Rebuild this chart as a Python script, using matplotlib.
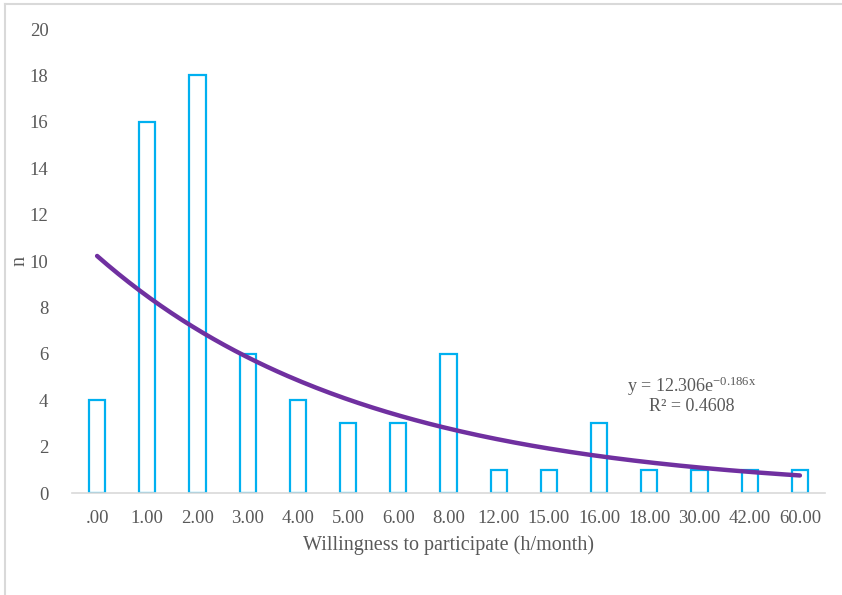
import numpy as np
import matplotlib
matplotlib.use("Agg")
import matplotlib.pyplot as plt
from matplotlib.lines import Line2D

categories = ['.00', '1.00', '2.00', '3.00', '4.00', '5.00', '6.00', '8.00',
              '12.00', '15.00', '16.00', '18.00', '30.00', '42.00', '60.00']
counts = [4, 16, 18, 6, 4, 3, 3, 6, 1, 1, 3, 1, 1, 1, 1]

# exponential trendline as printed on the chart (x = category number 1..15)
trend_a = 12.306
trend_b = -0.186
trend_label = r'y = 12.306e$\mathregular{^{-0.186x}}$' + '\nR² = 0.4608'

plt.rcParams['font.family'] = ['Liberation Serif', 'DejaVu Serif']
plt.rcParams['mathtext.fontset'] = 'custom'
plt.rcParams['mathtext.rm'] = 'Liberation Serif'
gray = '#595959'

fig = plt.figure(figsize=(8.42, 5.95), dpi=100)
ax = fig.add_axes([72/842, 1 - 493/595, (825-72)/842, (493-29)/595])

x = np.arange(len(categories))
ax.bar(x, counts, width=0.32, facecolor='white', edgecolor='#00B0F0', linewidth=1.6, zorder=2)

xs = np.linspace(0, len(categories) - 1, 200)
ax.plot(xs, trend_a * np.exp(trend_b * (xs + 1)), color='#7030A0', linewidth=3.2,
        solid_capstyle='round', zorder=3)

ax.set_xlim(-0.5, len(categories) - 0.5)
ax.set_ylim(0, 20)
ax.set_yticks(range(0, 21, 2))
ax.set_xticks(x)
ax.set_xticklabels(categories)
ax.tick_params(axis='both', length=0, labelsize=13.5, colors=gray)
ax.tick_params(axis='x', pad=12)
ax.tick_params(axis='y', pad=17)
for s in ['top', 'right', 'left']:
    ax.spines[s].set_visible(False)
ax.spines['bottom'].set_color('#D9D9D9')
ax.spines['bottom'].set_linewidth(1.2)

ax.set_xlabel('Willingness to participate (h/month)', fontsize=14.5, color=gray, labelpad=6)
ax.set_ylabel('n', fontsize=14.5, color=gray)
ax.yaxis.set_label_coords(-0.057, 0.5)

ax.text(11.85, 4.25, trend_label, fontsize=13, color=gray, ha='center', va='center',
        linespacing=1.0)

# outer chart frame (top and left edges visible)
fig.add_artist(Line2D([5/842, 1], [1 - 4/595, 1 - 4/595], color='#D9D9D9', linewidth=1.5))
fig.add_artist(Line2D([5/842, 5/842], [0, 1 - 4/595], color='#D9D9D9', linewidth=1.5))

fig.savefig('out.png', dpi=100)
